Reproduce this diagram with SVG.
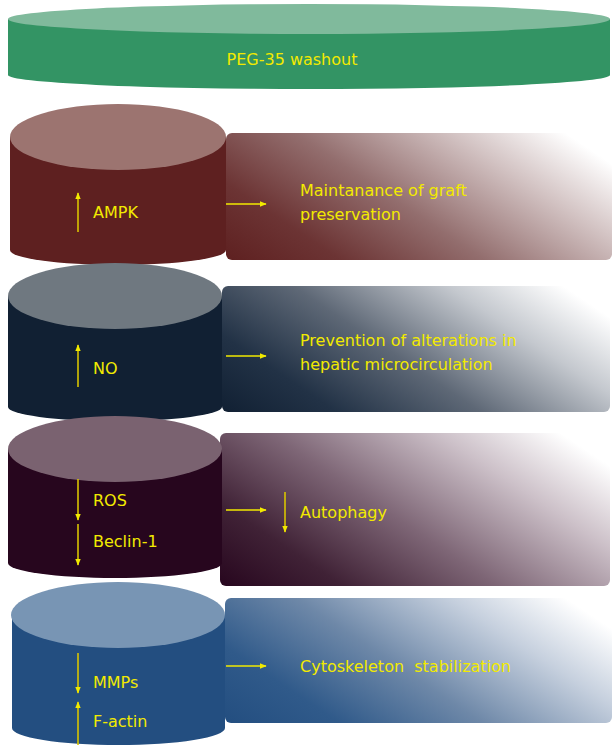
<svg xmlns="http://www.w3.org/2000/svg" width="612" height="749" viewBox="0 0 612 749">
<style>
text{font-family:"DejaVu Sans","Liberation Sans",sans-serif;font-size:16px;fill:#F2EA00;white-space:pre}
.ar{stroke:#D8C400;stroke-width:1.6;fill:none;marker-end:url(#ah)}
.rr{stroke:#F2EA00;stroke-width:1.4;fill:none;marker-end:url(#ah)}
</style>
<defs>
<marker id="ah" viewBox="0 0 10 10" refX="9" refY="5" markerWidth="7" markerHeight="7" orient="auto" markerUnits="userSpaceOnUse"><path d="M0,1 L10,5 L0,9 Z" fill="#F2EA00"/></marker>
<linearGradient id="g1" gradientUnits="userSpaceOnUse" x1="226" y1="260" x2="404" y2="-6"><stop offset="0" stop-color="#5E2020"/><stop offset="0.2" stop-color="#6C3434"/><stop offset="0.45" stop-color="#936E6E"/><stop offset="0.72" stop-color="#D2C2C2"/><stop offset="0.92" stop-color="#FFFFFF"/></linearGradient>
<linearGradient id="g2" gradientUnits="userSpaceOnUse" x1="222" y1="412" x2="400" y2="146"><stop offset="0" stop-color="#112033"/><stop offset="0.2" stop-color="#223246"/><stop offset="0.45" stop-color="#5E6876"/><stop offset="0.72" stop-color="#C4C8CE"/><stop offset="0.92" stop-color="#FFFFFF"/></linearGradient>
<linearGradient id="g3" gradientUnits="userSpaceOnUse" x1="220" y1="586" x2="411" y2="300"><stop offset="0" stop-color="#27061E"/><stop offset="0.2" stop-color="#402236"/><stop offset="0.45" stop-color="#7E6676"/><stop offset="0.72" stop-color="#CCC0C8"/><stop offset="0.92" stop-color="#FFFFFF"/></linearGradient>
<linearGradient id="g4" gradientUnits="userSpaceOnUse" x1="225" y1="723" x2="402" y2="458"><stop offset="0" stop-color="#234E80"/><stop offset="0.2" stop-color="#305A8A"/><stop offset="0.45" stop-color="#6E88A8"/><stop offset="0.72" stop-color="#C6D0DE"/><stop offset="0.92" stop-color="#FFFFFF"/></linearGradient>
</defs>

<g id="washout">
<path d="M8,19 L8,75 A301,14 0 0 0 610,75 L610,19 Z" fill="#339464"/>
<ellipse cx="309" cy="19" rx="301" ry="15" fill="#80BA9C"/>
<text x="292" y="65" text-anchor="middle">PEG-35 washout</text>
</g>

<g id="row1">
<rect x="226" y="133" width="386" height="127" rx="6" fill="url(#g1)"/>
<path d="M10,137 L10,250 A108,15 0 0 0 226,250 L226,137 Z" fill="#5E2020"/>
<ellipse cx="118" cy="137" rx="108" ry="33" fill="#9C7470"/>
<text x="93" y="218">AMPK</text>
<text x="300" y="196">Maintanance of graft</text>
<text x="300" y="220">preservation</text>
</g>

<g id="row2">
<rect x="222" y="286" width="388" height="126" rx="6" fill="url(#g2)"/>
<path d="M8,296 L8,407 A107,14 0 0 0 222,407 L222,296 Z" fill="#112033"/>
<ellipse cx="115" cy="296" rx="107" ry="33" fill="#6F7880"/>
<text x="93" y="374">NO</text>
<text x="300" y="346">Prevention of alterations in</text>
<text x="300" y="370">hepatic microcirculation</text>
</g>

<g id="row3">
<rect x="220" y="433" width="390" height="153" rx="6" fill="url(#g3)"/>
<path d="M8,449 L8,563 A107,15 0 0 0 222,563 L222,449 Z" fill="#27061E"/>
<ellipse cx="115" cy="449" rx="107" ry="33" fill="#7A6270"/>
<text x="93" y="506">ROS</text>
<text x="93" y="547">Beclin-1</text>
<text x="300" y="518">Autophagy</text>
</g>

<g id="row4">
<rect x="225" y="598" width="387" height="125" rx="6" fill="url(#g4)"/>
<path d="M12,615 L12,728 A106,17 0 0 0 225,728 L225,615 Z" fill="#234E80"/>
<ellipse cx="118" cy="615" rx="107" ry="33" fill="#7895B4"/>
<text x="93" y="688">MMPs</text>
<text x="93" y="727">F-actin</text>
<text x="300" y="672">Cytoskeleton  stabilization</text>
</g>

<g id="connectors">
<line class="ar" x1="78" y1="232" x2="78" y2="193"/>
<line class="rr" x1="226" y1="204" x2="266" y2="204"/>
<line class="ar" x1="78" y1="387" x2="78" y2="345"/>
<line class="rr" x1="226" y1="356" x2="266" y2="356"/>
<line class="ar" x1="78" y1="479" x2="78" y2="520"/>
<line class="ar" x1="78" y1="524" x2="78" y2="565"/>
<line class="rr" x1="226" y1="510" x2="266" y2="510"/>
<line class="ar" x1="285" y1="492" x2="285" y2="532"/>
<line class="ar" x1="78" y1="653" x2="78" y2="693"/>
<line class="ar" x1="78" y1="745" x2="78" y2="702"/>
<line class="rr" x1="226" y1="666" x2="266" y2="666"/>
</g>
</svg>
